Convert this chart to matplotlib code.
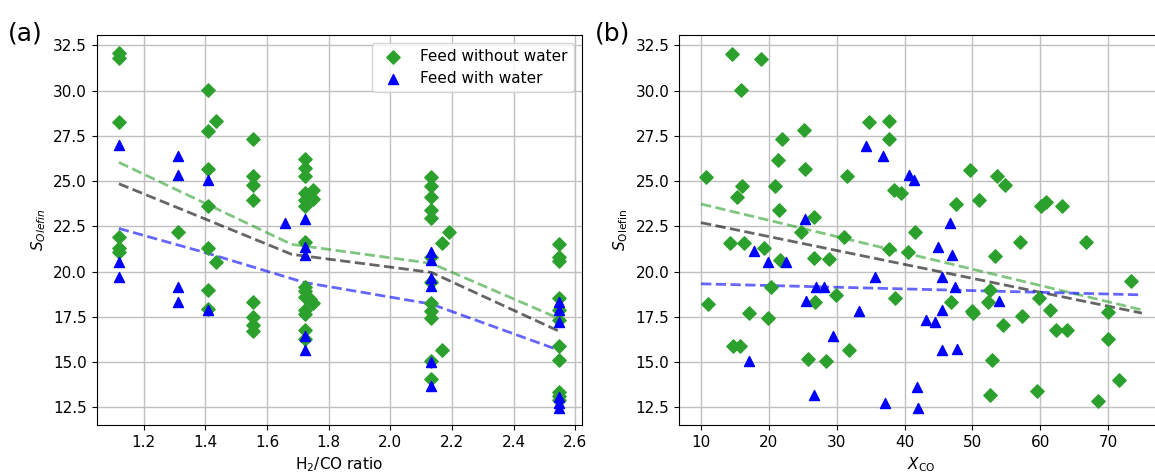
import matplotlib.pyplot as plt

# ---- panel (a): S_olefin vs H2/CO ratio ----
ratio_dry = ([1.12] * 6 + [1.313] + [1.409] * 7 + [1.434] * 2 + [1.555] * 8
             + [1.723] * 14 + [1.74] * 2 + [1.75] * 3 + [2.133] * 12
             + [2.166] * 2 + [2.189] + [2.547] * 11)
sel_dry_a = ([32.05, 31.8, 28.27, 21.92, 21.29, 21.07]
             + [22.21]
             + [30.02, 27.78, 25.64, 23.64, 21.29, 18.99, 17.92]
             + [28.33, 20.51]
             + [27.3, 25.29, 24.78, 23.94, 18.29, 17.51, 17.06, 16.73]
             + [26.2, 25.72, 25.28, 24.33, 23.95, 23.62, 21.63, 19.17, 18.9,
                18.6, 17.85, 17.68, 16.75, 16.28]
             + [24.2, 18.5]
             + [24.5, 24.0, 18.28]
             + [25.25, 24.75, 24.14, 23.4, 22.94, 20.8, 19.4, 18.25, 17.82,
                17.42, 15.05, 14.05]
             + [21.6, 15.68]
             + [22.17]
             + [21.54, 20.8, 20.6, 18.52, 17.85, 17.3, 15.9, 15.12, 13.35,
                13.1, 12.9])

ratio_wet = ([1.12] * 3 + [1.313] * 4 + [1.409] * 2 + [1.657] + [1.723] * 5
             + [2.133] * 6 + [2.547] * 6)
sel_wet_a = ([26.99, 20.51, 19.72]
             + [26.38, 25.33, 19.14, 18.29]
             + [25.06, 17.85]
             + [22.67]
             + [22.89, 21.38, 20.9, 16.42, 15.64]
             + [21.1, 20.65, 19.65, 19.2, 15.02, 13.65]
             + [18.33, 17.85, 17.2, 13.05, 12.72, 12.46])

# dashed trend lines (a)
trend_ratio_dry = [1.12, 1.68, 2.133, 2.547]
trend_dry_a = [26.03, 21.5, 20.45, 17.4]
trend_ratio_all = [1.12, 1.68, 2.133, 2.547]
trend_all_a = [24.85, 20.95, 19.95, 16.7]
trend_ratio_wet = [1.12, 1.409, 1.72, 2.133, 2.547]
trend_wet_a = [22.38, 21.0, 19.4, 18.2, 15.65]

# ---- panel (b): S_olefin vs CO conversion ----
xco_dry = [14.63, 18.86, 15.86, 10.69, 16.0, 15.32, 20.93, 21.33, 21.92, 21.52,
           14.28, 16.4, 19.35, 21.67, 20.34, 11.08, 17.14, 19.85, 14.78, 15.76,
           25.11, 25.26, 26.59, 24.77, 26.59, 28.91, 29.89, 26.74, 25.7, 28.42,
           31.76, 31.52, 34.71, 37.77, 37.77, 38.41, 39.54, 31.02, 37.77, 40.53,
           41.61, 38.55, 49.59, 53.68, 54.8, 47.62, 50.96, 56.97, 53.28, 52.54,
           52.35, 46.78, 49.88, 50.1, 54.5, 57.37, 52.84, 52.54, 59.83, 59.59,
           60.07, 60.81, 63.18, 66.82, 73.37, 61.4, 62.29, 64.02, 69.93, 69.93,
           71.55, 68.45]
sel_dry_b = [32.04, 31.76, 30.02, 25.24, 24.74, 24.14, 24.72, 26.16, 27.3, 23.4,
             21.56, 21.56, 21.32, 20.64, 19.14, 18.22, 17.7, 17.43, 15.9, 15.9,
             27.81, 25.64, 22.99, 22.21, 20.77, 20.68, 18.71, 18.29, 15.18, 15.07,
             15.68, 25.28, 28.27, 28.31, 27.3, 24.5, 24.32, 21.93, 21.25, 21.1,
             22.17, 18.53, 25.61, 25.28, 24.78, 23.71, 23.95, 21.62, 20.86, 18.99,
             18.29, 18.29, 17.8, 17.7, 17.06, 17.52, 15.09, 13.2, 18.53, 13.38,
             23.62, 23.86, 23.62, 21.62, 19.45, 17.89, 16.78, 16.78, 17.74, 16.29,
             14.03, 12.83]

xco_wet = [17.73, 19.94, 22.5, 17.09, 25.26, 26.94, 28.07, 25.46, 34.33, 36.78,
           35.7, 33.34, 29.4, 26.59, 37.18, 40.62, 41.36, 41.86, 42.0, 46.63,
           44.96, 47.03, 45.55, 47.41, 45.55, 43.19, 44.46, 53.92, 45.45, 47.77]
sel_wet_b = [21.16, 20.5, 20.55, 15.04, 22.89, 19.14, 19.17, 18.35, 26.93, 26.38,
             19.72, 17.83, 16.45, 13.16, 12.74, 25.33, 25.06, 13.62, 12.46, 22.67,
             21.38, 20.92, 19.72, 19.14, 17.89, 17.33, 17.19, 18.35, 15.64, 15.72]

# linear fits (b), endpoints
fit_xco = [10, 75]
fit_dry_b = [23.73, 17.88]
fit_all_b = [22.7, 17.7]
fit_wet_b = [19.32, 18.71]

fig = plt.figure(figsize=(11.55, 4.72), dpi=100)
plt.rcParams['font.size'] = 11
ax1 = fig.add_axes([0.0837, 0.0996, 0.4199, 0.8263])
ax2 = fig.add_axes([0.5879, 0.0996, 0.4199, 0.8263])

green = '#2ca02c'
ax1.scatter(ratio_dry, sel_dry_a, marker='D', s=46, color=green,
            label='Feed without water', zorder=3)
ax1.scatter(ratio_wet, sel_wet_a, marker='^', s=52, color='blue',
            label='Feed with water', zorder=3)
ax1.plot(trend_ratio_dry, trend_dry_a, '--', color=green, alpha=0.6, lw=2, zorder=2)
ax1.plot(trend_ratio_all, trend_all_a, '--', color='k', alpha=0.6, lw=2, zorder=2)
ax1.plot(trend_ratio_wet, trend_wet_a, '--', color='blue', alpha=0.6, lw=2, zorder=2)
ax1.set_xlim(1.048, 2.62)
ax1.set_ylim(11.52, 33.07)
ax1.set_xticks([1.2, 1.4, 1.6, 1.8, 2.0, 2.2, 2.4, 2.6])
ax1.set_xlabel('H$_2$/CO ratio')
ax1.set_ylabel('$S_{Olefin}$')
ax1.grid(True, color='#c0c0c0', lw=1.0)
ax1.set_axisbelow(True)
ax1.legend(loc='upper right', fontsize=11)

ax2.scatter(xco_dry, sel_dry_b, marker='D', s=46, color=green, zorder=3)
ax2.scatter(xco_wet, sel_wet_b, marker='^', s=52, color='blue', zorder=3)
ax2.plot(fit_xco, fit_dry_b, '--', color=green, alpha=0.6, lw=2, zorder=2)
ax2.plot(fit_xco, fit_all_b, '--', color='k', alpha=0.6, lw=2, zorder=2)
ax2.plot(fit_xco, fit_wet_b, '--', color='blue', alpha=0.6, lw=2, zorder=2)
ax2.set_xlim(6.75, 78.25)
ax2.set_ylim(11.52, 33.07)
ax2.set_xticks([10, 20, 30, 40, 50, 60, 70])
ax2.set_xlabel(r'$X_\mathrm{CO}$')
ax2.set_ylabel(r'$S_\mathrm{Olefin}$')
ax2.grid(True, color='#c0c0c0', lw=1.0)
ax2.set_axisbelow(True)

fig.text(0.007, 0.915, '(a)', fontsize=18)
fig.text(0.515, 0.915, '(b)', fontsize=18)

fig.savefig('out.png', dpi=100)
